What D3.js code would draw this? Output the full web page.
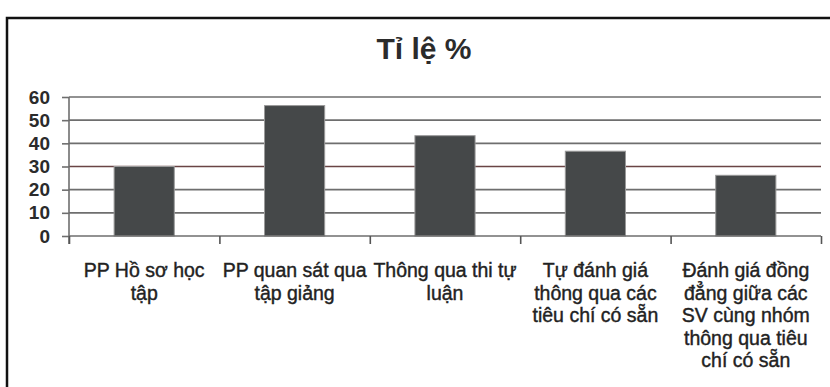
<!DOCTYPE html>
<html>
<head>
<meta charset="utf-8">
<script src="https://cdn.jsdelivr.net/npm/d3@7/dist/d3.min.js"></script>
<style>
  body { margin: 0; background: #fff; }
  svg { display: block; }
</style>
</head>
<body>
<div id="chart"></div>
<script>
// chart data
const categories = [
    ["PP Hồ sơ học", "tập"],
    ["PP quan sát qua", "tập giảng"],
    ["Thông qua thi tự", "luận"],
    ["Tự đánh giá", "thông qua các", "tiêu chí có sẵn"],
    ["Đánh giá đồng", "đẳng giữa các", "SV cùng nhóm", "thông qua tiêu", "chí có sẵn"]
];
const values = [30, 56.3, 43.3, 36.6, 26.2];
const yTicks = [0, 10, 20, 30, 40, 50, 60];
const title = "Tỉ lệ %";

const WIDTH = 830, HEIGHT = 387;
const margin = {top: 97, right: 9, bottom: 151, left: 69};
const plot_w = WIDTH - margin.left - margin.right;
const plot_h = HEIGHT - margin.top - margin.bottom;

const FONT = "'Liberation Sans', Arial, sans-serif";
const BAR_COLOR = "#454849";
const GRID_COLOR = "#6e6e6e";

let svg = d3.select("#chart")
    .append("svg")
    .attr("width", WIDTH)
    .attr("height", HEIGHT);

// outer frame
svg.append("rect")
    .attr("x", 7)
    .attr("y", 18)
    .attr("width", 830)
    .attr("height", 400)
    .attr("fill", "none")
    .attr("stroke", "#111")
    .attr("stroke-width", 2.5);

svg.append("text")
    .attr("x", 424)
    .attr("y", 59)
    .style("text-anchor", "middle")
    .style("font-family", FONT)
    .style("font-weight", "bold")
    .style("font-size", "30px")
    .style("fill", "#2b2b2b")
    .text(title);

let g = svg.append("g")
    .attr("transform", `translate(${margin.left}, ${margin.top})`);

let x = d3.scaleBand()
    .domain(d3.range(categories.length))
    .range([0, plot_w])
    .paddingInner(0.6)
    .paddingOuter(0.3);

let xTicks = d3.scaleLinear()
    .domain([0, categories.length])
    .range([0, plot_w]);

let y = d3.scaleLinear()
    .domain([0, 60])
    .range([plot_h, 0]);

// gridlines
g.selectAll(".grid")
    .data(yTicks.filter(d => d > 0))
    .enter()
    .append("line")
    .attr("x1", 0)
    .attr("x2", plot_w)
    .attr("y1", d => y(d))
    .attr("y2", d => y(d))
    .attr("stroke", d => d == 30 ? "#6a4444" : GRID_COLOR)
    .attr("stroke-width", 1.6);

// bars
g.selectAll(".bar")
    .data(values)
    .enter()
    .append("rect")
    .attr("x", (d, i) => x(i))
    .attr("y", d => y(d))
    .attr("width", x.bandwidth())
    .attr("height", d => plot_h - y(d))
    .attr("fill", BAR_COLOR)
    .attr("stroke", "#9a9a9a")
    .attr("stroke-width", 1);

// y axis
let yAxis = g.append("g")
    .call(d3.axisLeft(y).tickValues(yTicks).tickSize(7).tickPadding(12));
yAxis.select(".domain").attr("stroke", GRID_COLOR).attr("stroke-width", 1.6)
    .attr("d", `M0,${plot_h + 8}V0`);
yAxis.selectAll(".tick line").attr("stroke", GRID_COLOR).attr("stroke-width", 1.6);
yAxis.selectAll(".tick text")
    .style("font-family", FONT)
    .style("font-weight", "bold")
    .style("font-size", "19px")
    .style("fill", "#2b2b2b");

// x axis baseline with category boundary ticks
let xAxis = g.append("g")
    .attr("transform", `translate(0, ${plot_h})`)
    .call(d3.axisBottom(xTicks).ticks(categories.length).tickSize(8).tickFormat(""));
xAxis.select(".domain").attr("stroke", GRID_COLOR).attr("stroke-width", 1.6)
    .attr("d", `M0,0H${plot_w}`);
xAxis.selectAll(".tick line").attr("stroke", "#555").attr("stroke-width", 1.6);

// category labels
let labels = g.selectAll(".cat")
    .data(categories)
    .enter()
    .append("text")
    .attr("transform", (d, i) => `translate(${x(i) + x.bandwidth() / 2}, ${plot_h + 41})`)
    .style("text-anchor", "middle")
    .style("font-family", FONT)
    .style("font-size", "19.5px")
    .style("fill", "#222")
    .style("stroke", "#222")
    .style("stroke-width", 0.4);

labels.selectAll("tspan")
    .data(d => d)
    .enter()
    .append("tspan")
    .attr("x", 0)
    .attr("dy", (d, i) => i == 0 ? 0 : 22.5)
    .text(d => d);
</script>
</body>
</html>
